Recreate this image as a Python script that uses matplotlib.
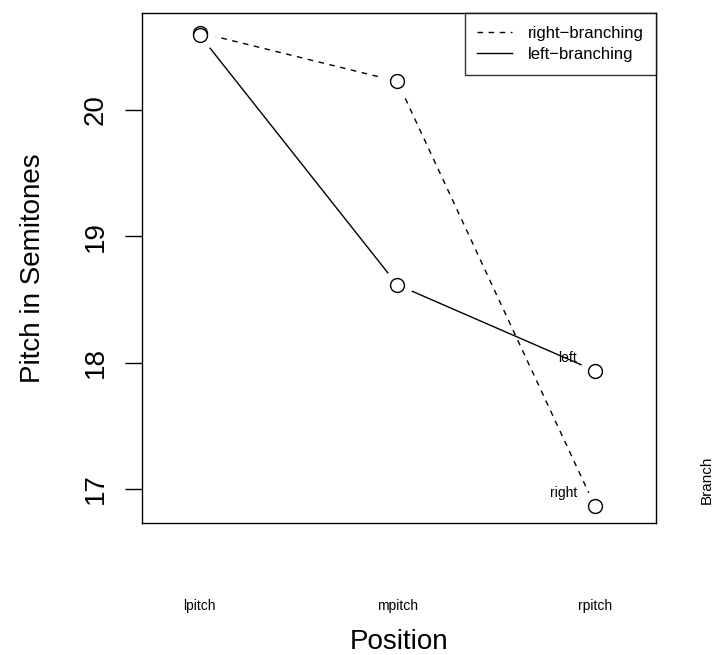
import numpy as np
import matplotlib
matplotlib.use("Agg")
import matplotlib.pyplot as plt

plt.rcParams['font.family'] = ['Liberation Sans', 'DejaVu Sans']

# mean pitch per position, one series per branching type
positions = ["lpitch", "mpitch", "rpitch"]
right_branching = [20.61, 20.225, 16.865]
left_branching = [20.59, 18.615, 17.935]
series_labels = ["right\u2212branching", "left\u2212branching"]
end_labels = ["right", "left"]

x = np.arange(1, len(positions) + 1)

fig = plt.figure(figsize=(7.16, 6.55), dpi=100)
ax = fig.add_axes([0.198, 0.2015, 0.718, 0.7785])

# lines first, then white discs to leave a gap round each point (like R type="b")
ax.plot(x, right_branching, color='black', lw=1, ls=(0, (4, 4)), label=series_labels[0], zorder=2)
ax.plot(x, left_branching, color='black', lw=1, ls='-', label=series_labels[1], zorder=2)
for ys in (right_branching, left_branching):
    ax.plot(x, ys, ls='none', marker='o', ms=21, mfc='white', mec='white', zorder=3)
    ax.plot(x, ys, ls='none', marker='o', ms=10, mfc='white', mec='black', mew=1, zorder=4)

# series names next to the last points
for ys, name in zip((right_branching, left_branching), end_labels):
    ax.annotate(name, (x[-1], ys[-1]), xytext=(-13, 9.5), textcoords='offset points',
                ha='right', va='center', fontsize=10, zorder=5)

ax.set_xlim(0.706, 3.309)
ax.set_ylim(16.73, 20.765)

ax.set_xticks(x)
ax.set_xticklabels(positions, fontsize=10)
ax.tick_params(axis='x', length=0, pad=55)
ax.set_yticks([17, 18, 19, 20])
ax.tick_params(axis='y', length=12, width=1, pad=12, labelsize=20)
for lbl in ax.get_yticklabels():
    lbl.set_rotation(90)
    lbl.set_va('center')

for s in ax.spines.values():
    s.set_linewidth(1)

ax.set_xlabel("Position", fontsize=20)
ax.xaxis.set_label_coords(0.5, -0.208)
ax.set_ylabel("Pitch in Semitones", fontsize=20)
ax.yaxis.set_label_coords(-0.186, 0.5)

leg = ax.legend(loc='upper right', fontsize=12, frameon=True, fancybox=False,
                borderaxespad=0, borderpad=0.75, labelspacing=0.4,
                handlelength=2.1, handletextpad=0.9)
leg.get_frame().set_edgecolor('black')
leg.get_frame().set_linewidth(1)

fig.text(707 / 716, 1 - 480 / 655, "Branch", rotation=90, ha='center', va='center', fontsize=11)

fig.savefig("out.png", dpi=100)
